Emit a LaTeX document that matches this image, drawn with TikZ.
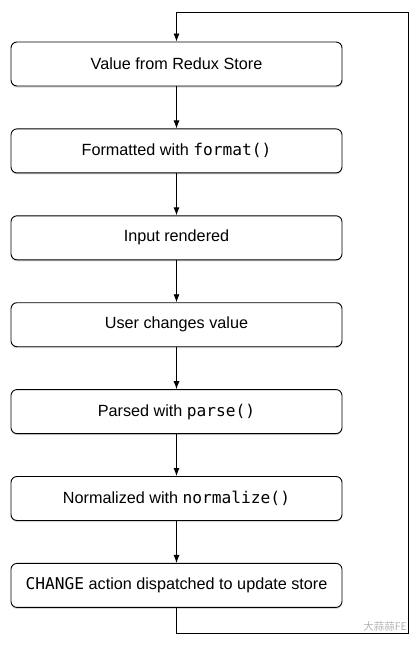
\documentclass[tikz,border=0pt]{standalone}
\usepackage{fontspec}
\setmainfont{Liberation Sans}
\setmonofont{DejaVu Sans Mono}
\newfontfamily\cjk{Noto Sans CJK SC}
\usetikzlibrary{positioning,shadows,arrows.meta}

\begin{document}
\begin{tikzpicture}[x=1pt, y=-1pt,
  korak/.style={draw, rounded corners=6pt, minimum width=331pt, minimum height=44pt,
    fill=white, line width=0.9pt, inner sep=0pt,
    drop shadow={shadow xshift=0pt, shadow yshift=-1.5pt, opacity=0.3},
    font=\fontsize{16.2}{18}\selectfont},
  puscica/.style={-{Latex[length=8pt,width=6pt]}, line width=0.8pt}]
  \useasboundingbox (0,0) rectangle (420,645);
  % koraki
  \node[korak] (value) at (176.5,64) {Value from Redux Store};
  \node[korak, below=42pt of value] (format) {Formatted with \texttt{format()}};
  \node[korak, below=42pt of format] (input) {Input rendered};
  \node[korak, below=42pt of input] (user) {User changes value};
  \node[korak, below=42pt of user] (parse) {Parsed with \texttt{parse()}};
  \node[korak, below=42pt of parse] (norm) {Normalized with \texttt{normalize()}};
  \node[korak, below=42pt of norm] (change) {\texttt{CHANGE} action dispatched to update store};
  % puscice
  \draw[puscica] (value) -- (format);
  \draw[puscica] (format) -- (input);
  \draw[puscica] (input) -- (user);
  \draw[puscica] (user) -- (parse);
  \draw[puscica] (parse) -- (norm);
  \draw[puscica] (norm) -- (change);
  % povratna zanka
  \coordinate (kot1) at (408,633);
  \coordinate (kot2) at (408,12);
  \draw[puscica] (change.south) |- (kot1) -- (kot2) -| (value.north);
  % oznaka
  \node[text=black!30, font=\cjk\fontsize{10.5}{12}\selectfont, anchor=east, inner sep=0pt] (znak) at (407,627) {大蒜蒜FE};
\end{tikzpicture}
\end{document}
